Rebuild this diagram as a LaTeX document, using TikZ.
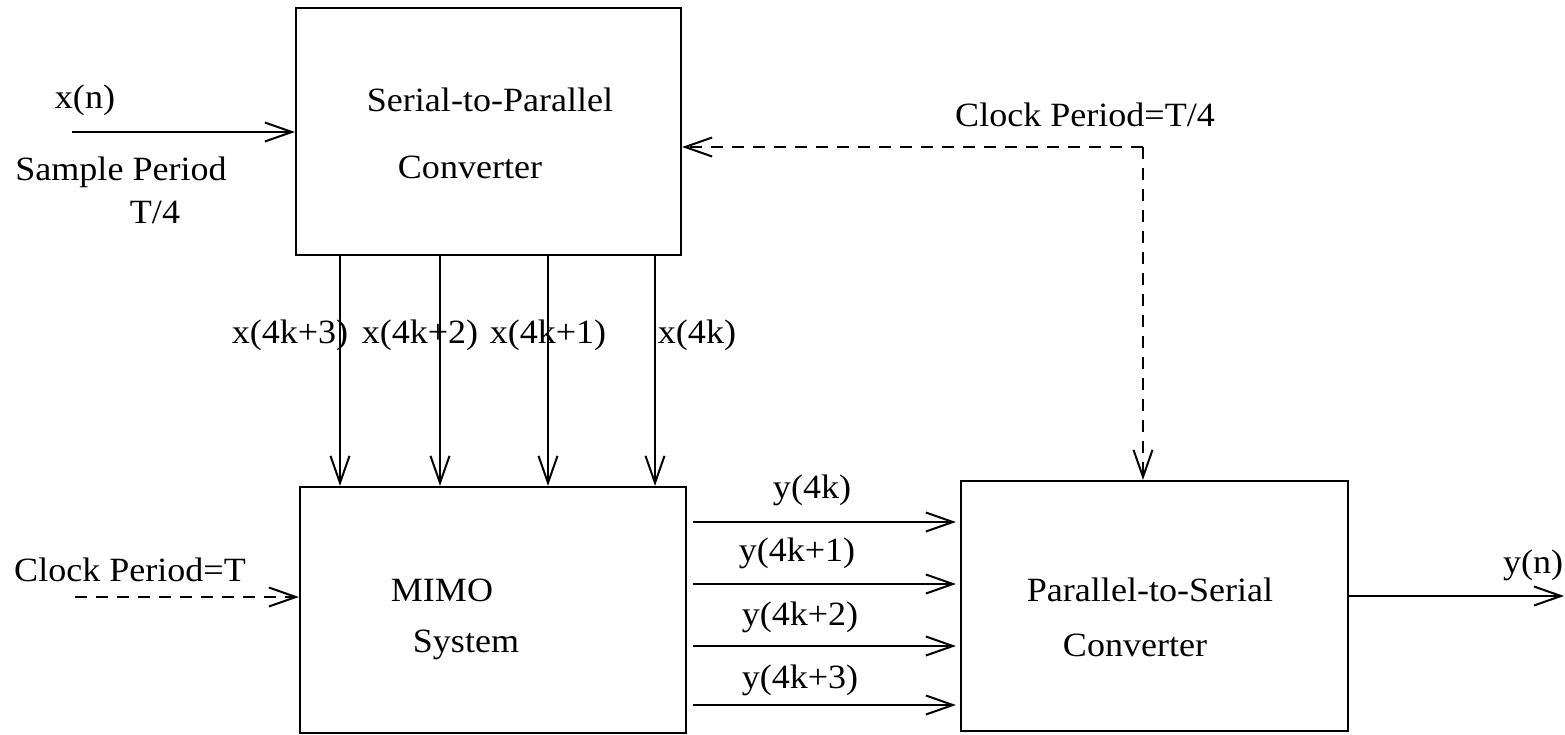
\documentclass[tikz,border=0pt]{standalone}
\usepackage{fontspec}
\setmainfont[FakeStretch=1.06]{Liberation Serif}
\usetikzlibrary{arrows.meta}
\begin{document}
\begin{tikzpicture}[x=1pt,y=-1pt,
  blk/.style={draw, line width=2.2pt, inner sep=0pt},
  arr/.style={line width=2pt, -{Straight Barb[length=27pt,width=19pt,line width=2pt]}},
  dsh/.style={arr, dash pattern=on 12pt off 9pt},
  lbl/.style={font=\fontsize{34}{40}\selectfont, inner sep=0pt}]
\useasboundingbox (0,0) rectangle (1565,734);
% boxes
\node[blk, minimum width=385pt, minimum height=247pt] (sp) at (488.5,131.5) {};
\node[blk, minimum width=386pt, minimum height=246pt] (mimo) at (493,610) {};
\node[blk, minimum width=387pt, minimum height=250pt] (ps) at (1154.5,606) {};
% box texts
\node[lbl] (t1) at (490,100) {Serial-to-Parallel};
\node[lbl] (t2) at (470,167) {Converter};
\node[lbl] (t3) at (442,590) {MIMO};
\node[lbl] (t4) at (466,645) {System};
\node[lbl] (t5) at (1150,590) {Parallel-to-Serial};
\node[lbl] (t6) at (1135,645) {Converter};
% outer labels
\node[lbl] (lxn) at (85,100) {x(n)};
\node[lbl] (lsp) at (121,172) {Sample Period};
\node[lbl] (lt4) at (155,212) {T/4};
\node[lbl] (lck4) at (1085,115) {Clock Period=T/4};
\node[lbl] (lck) at (130,570) {Clock Period=T};
\node[lbl] (lyn) at (1533,565) {y(n)};
\node[lbl] (lx3) at (290,335) {x(4k+3)};
\node[lbl] (lx2) at (420,335) {x(4k+2)};
\node[lbl] (lx1) at (548,335) {x(4k+1)};
\node[lbl] (lx0) at (697,335) {x(4k)};
\node[lbl] (ly0) at (812,490) {y(4k)};
\node[lbl] (ly1) at (797,553) {y(4k+1)};
\node[lbl] (ly2) at (800,617) {y(4k+2)};
\node[lbl] (ly3) at (800,680) {y(4k+3)};
% free ends
\coordinate (xin) at (72,132);
\coordinate (ckin) at (75,597);
\coordinate (corner) at (1143,147);
\coordinate (yout) at (1564,596);
% input arrow
\draw[arr] (xin) -- (sp.west |- xin);
% clock T/4
\draw[dsh] (corner) -- (sp.east |- corner);
\draw[dsh] (corner) -- (ps.north -| corner);
% clock T
\draw[dsh] (ckin) -- (mimo.west |- ckin);
% parallel x lines
\foreach \xx in {340,440,548,655}{
  \draw[arr] (sp.south -| \xx,0) -- (mimo.north -| \xx,0);
}
% y lines
\foreach \yy in {522,584,646,705}{
  \draw[arr] ([xshift=6pt]mimo.east |- 0,\yy) -- ([xshift=-4pt]ps.west |- 0,\yy);
}
% output
\draw[arr] (ps.east |- yout) -- (yout);
\end{tikzpicture}
\end{document}
